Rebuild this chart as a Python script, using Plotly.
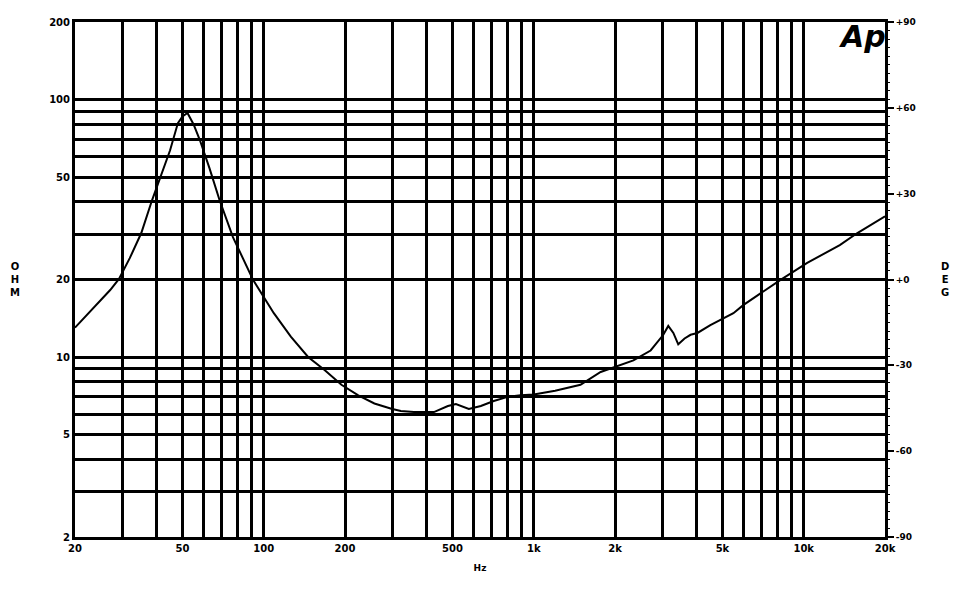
import plotly.graph_objects as go
import math

# Impedance magnitude (ohm) vs frequency (Hz)
freq_hz = [20, 23.3, 27, 29.1, 31.9, 35.2, 38.6, 45, 48.1, 50, 52.2, 55, 58, 63, 68.6,
           76.9, 84, 91.4, 100, 109, 126, 146, 168, 194, 224, 257, 297, 322, 360, 427,
           481, 515, 575, 637, 711, 801, 895, 1000, 1200, 1490, 1770, 2040, 2340, 2710,
           3020, 3150, 3290, 3430, 3620, 3810, 4040, 4510, 5490, 5970, 8180, 10300,
           13600, 15800, 19600, 20000]
impedance_ohm = [13.0, 15.5, 18.2, 20.1, 24.2, 30.3, 40.7, 63.5, 81, 86, 88.7, 80, 69.6, 54, 40.7,
                 29.2, 24, 19.9, 17.1, 14.8, 12.0, 10.0, 8.9, 7.8, 7.1, 6.6, 6.3, 6.17, 6.12, 6.11,
                 6.45, 6.57, 6.28, 6.45, 6.75, 7.0, 7.11, 7.15, 7.4, 7.8, 8.75, 9.2, 9.7, 10.6,
                 12.2, 13.2, 12.4, 11.2, 11.8, 12.2, 12.4, 13.3, 14.8, 15.9, 19.9, 23.2,
                 27.2, 30.3, 34.7, 35.2]

# Axis grids and labels
x_grid = [20, 30, 40, 50, 60, 70, 80, 90, 100, 200, 300, 400, 500, 600, 700, 800, 900,
          1000, 2000, 3000, 4000, 5000, 6000, 7000, 8000, 9000, 10000, 20000]
x_labels = {20: "20", 50: "50", 100: "100", 200: "200", 500: "500", 1000: "1k",
            2000: "2k", 5000: "5k", 10000: "10k", 20000: "20k"}
y_grid = [2, 3, 4, 5, 6, 7, 8, 9, 10, 20, 30, 40, 50, 60, 70, 80, 90, 100, 200]
y_labels = {2: "2", 5: "5", 10: "10", 20: "20", 50: "50", 100: "100", 200: "200"}
deg_ticks = [-90, -60, -30, 0, 30, 60, 90]
deg_labels = ["-90", "-60", "-30", "+0", "+30", "+60", "+90"]

font = dict(family="DejaVu Sans", size=10, color="black", weight="bold")
small = dict(family="DejaVu Sans", size=9, color="black", weight="bold")

fig = go.Figure()
fig.add_trace(go.Scatter(x=freq_hz, y=impedance_ohm, mode="lines",
                         line=dict(color="black", width=2), showlegend=False,
                         hoverinfo="skip"))
fig.add_trace(go.Scatter(x=[100], y=[0], yaxis="y2", mode="markers",
                         marker=dict(opacity=0), showlegend=False, hoverinfo="skip"))

fig.update_layout(
    width=942, height=584,
    margin=dict(l=67, r=65, t=14, b=55, autoexpand=False),
    paper_bgcolor="white", plot_bgcolor="white",
    font=font,
    xaxis=dict(type="log", range=[math.log10(20), math.log10(20000)],
               tickvals=x_grid, ticktext=[x_labels.get(v, "") for v in x_grid],
               showgrid=True, gridcolor="black", gridwidth=2.5,
               showline=True, linecolor="black", linewidth=3, mirror=True,
               ticks="", tickfont=font, automargin=False,
               title=dict(text="Hz", font=small, standoff=12),
               zeroline=False),
    yaxis=dict(type="log", range=[math.log10(2), math.log10(200)],
               tickvals=y_grid, ticktext=[y_labels.get(v, "") for v in y_grid],
               showgrid=True, gridcolor="black", gridwidth=2.5,
               showline=True, linecolor="black", linewidth=3, mirror=True,
               ticks="", tickfont=font, zeroline=False, automargin=False),
    yaxis2=dict(overlaying="y", side="right", range=[-90, 90],
                tickvals=deg_ticks, ticktext=deg_labels, automargin=False,
                showgrid=False, zeroline=False, showline=False,
                ticks="outside", ticklen=8, tickwidth=1.5, tickcolor="black",
                tickfont=small,
                minor=dict(dtick=3, ticks="outside", ticklen=4, tickwidth=1.2,
                           tickcolor="black", showgrid=False)),
    annotations=[
        dict(text="O<br>H<br>M", xref="paper", yref="paper", x=-0.0745, y=0.50,
             xanchor="center", yanchor="middle", showarrow=False,
             font=dict(family="DejaVu Sans", size=10, color="black", weight="bold"),
             align="center"),
        dict(text="D<br>E<br>G", xref="paper", yref="paper", x=1.074, y=0.50,
             xanchor="center", yanchor="middle", showarrow=False,
             font=dict(family="DejaVu Sans", size=10, color="black", weight="bold"),
             align="center"),
        dict(text="<b><i>Ap</i></b>", xref="paper", yref="paper", x=1.004, y=1.01,
             xanchor="right", yanchor="top", showarrow=False,
             font=dict(family="DejaVu Sans", size=30, color="black")),
    ],
)

fig.write_html("out.html")
